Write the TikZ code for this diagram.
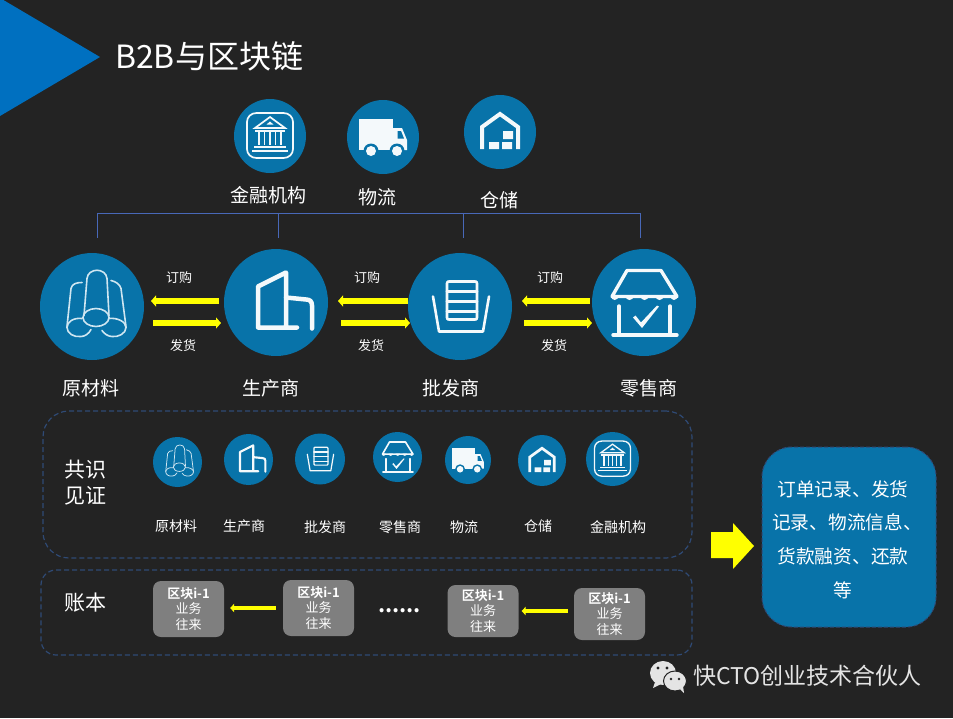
\documentclass[tikz,border=0pt]{standalone}
\usepackage{fontspec}
\setmainfont{Noto Sans CJK SC}[BoldFont={Noto Sans CJK SC Bold}]
\usetikzlibrary{arrows.meta,shapes.geometric}
\definecolor{bgc}{HTML}{232323}
\definecolor{disc}{HTML}{0873A9}
\definecolor{tri}{HTML}{0070C0}
\definecolor{ink}{HTML}{F4F9FB}
\definecolor{tube}{HTML}{CFE6F1}
\definecolor{busc}{HTML}{4868B8}
\definecolor{dashc}{HTML}{2F4A75}
\definecolor{yel}{HTML}{FFFF00}
\definecolor{wm}{HTML}{E4E4E4}
\definecolor{blockc}{HTML}{7F7F7F}
\tikzset{
  disk/.style={ellipse,fill=disc,draw=none,inner sep=0pt,outer sep=0pt},
  lab/.style={text=white,inner sep=0pt,font=\fontsize{#1}{#1}\selectfont},
  lab/.default=19,
  buswire/.style={draw=busc,line width=0.8pt},
  yarrow/.style={draw=yel,line width=6pt,-{Triangle[length=5pt,width=11pt,fill=yel]}},
  yarrowthin/.style={draw=yel,line width=4.5pt,-{Triangle[length=4pt,width=8.5pt,fill=yel]}},
  dashbox/.style={draw=dashc,line width=1.2pt,dash pattern=on 5pt off 3pt,inner sep=0pt,outer sep=0pt},
  block/.style={fill=blockc,rounded corners=8pt,text=white,align=center,inner sep=0pt,
    minimum width=71pt,font=\fontsize{13}{15.5}\selectfont},
}
% icons
\newcommand\iconTubes[3]{\begin{scope}[shift={(#1,#2)},scale=#3,draw=tube,line width=#3*1.6pt,line join=round,line cap=round]
 \draw (4,2) .. controls (-3,2) and (-9,6) .. (-9,11) .. controls (-9,16) and (-3,20) .. (4,20) .. controls (11,20) and (17,16) .. (17,11) .. controls (17,6) and (11,2) .. (4,2);
 \draw (-8,9) -- (-5,-28) .. controls (-4,-39) and (14,-39) .. (15,-28) -- (17,9);
 \draw (-10,12) .. controls (-18,11) and (-25,15) .. (-25,21) .. controls (-25,27) and (-18,31) .. (-11,30) .. controls (-7,30) and (-3,27) .. (-1,23);
 \draw (-25,20) -- (-21,-18) .. controls (-20,-23) and (-15,-24) .. (-10,-24);
 \draw (17,12) .. controls (25,11) and (34,15) .. (34,21) .. controls (34,27) and (26,31) .. (20,30) .. controls (16,30) and (12,27) .. (10,24);
 \draw (34,20) -- (29,-18) .. controls (28,-22) and (24,-25) .. (19,-26);
\end{scope}}
\newcommand\iconFactory[3]{\begin{scope}[shift={(#1,#2)},scale=#3,draw=ink,line width=#3*4.5pt,line join=round,line cap=round]
 \draw (21,25) -- (-18,25) -- (-18,-16) -- (10,-30) -- (10,25);
 \draw (10,-5) -- (30,-3) .. controls (34,-3) and (36,-1) .. (36,3) -- (36,26);
\end{scope}}
\newcommand\iconStock[3]{\begin{scope}[shift={(#1,#2)},scale=#3,draw=ink,line width=#3*2.6pt,line join=round,line cap=round]
 \draw (-13,-23) .. controls (-13,-25) and (-12,-25) .. (-11,-25) -- (15,-25) .. controls (16,-25) and (17,-25) .. (17,-23) -- (17,11) .. controls (17,13) and (16,13) .. (15,13) -- (-11,13) .. controls (-12,13) and (-13,13) .. (-13,11) -- cycle;
 \draw (-13,-15) -- (17,-15) (-13,-5) -- (17,-5) (-13,5) -- (17,5);
 \draw (-27,-10) -- (-21,25) -- (23,25) -- (29,-10);
\end{scope}}
\newcommand\iconShop[3]{\begin{scope}[shift={(#1,#2)},scale=#3,draw=ink,line width=#3*3.4pt,line join=round,line cap=round]
 \draw (-17,-32) -- (17,-32) -- (33,-6) -- (-32,-6) -- cycle;
 \fill[ink] (-19,-7) .. controls (-18,-1) and (-11,-1) .. (-10,-7) -- cycle;
 \fill[ink] (-4,-7) .. controls (-3,-1) and (4,-1) .. (5,-7) -- cycle;
 \fill[ink] (11,-7) .. controls (12,-1) and (19,-1) .. (20,-7) -- cycle;
 \fill[ink] (-33,-7) .. controls (-33,-1) and (-26,-1) .. (-25,-7) -- cycle;
 \fill[ink] (26,-7) .. controls (27,-1) and (33,-1) .. (34,-7) -- cycle;
 \draw (-25,3.5) -- (-25,32.5) (26,3.5) -- (26,32.5) (-31,32.5) -- (33,32.5);
 \fill[ink] (-11,15) -- (-8.5,13) -- (-3,20) -- (13,3) -- (15,4) -- (-2,25.5) -- cycle;
\end{scope}}
\newcommand\iconBank[3]{\begin{scope}[shift={(#1,#2)},scale=#3,draw=ink,line width=#3*1.7pt,line join=miter]
 \draw (-13.5,-23) -- (13.5,-23) .. controls (19,-23) and (23,-19) .. (23,-14) -- (23,13) .. controls (23,18) and (19,22) .. (13.5,22) -- (-13.5,22) .. controls (-19,22) and (-23,18) .. (-23,13) -- (-23,-14) .. controls (-23,-19) and (-19,-23) .. (-13.5,-23) -- cycle;
 \draw (0,-19) -- (15,-8) -- (-15,-8) -- cycle;
 \fill[ink] (0,-14.5) -- (3.5,-11.5) -- (-3.5,-11.5) -- cycle;
 \draw (-11,-4) -- (-11,9) (-5.5,-4) -- (-5.5,9) (0,-4) -- (0,9) (5.5,-4) -- (5.5,9) (11,-4) -- (11,9);
 \draw (-15,-5) -- (15,-5) (-16,11) -- (16,11) (-18,15) -- (18,15);
\end{scope}}
\newcommand\iconTruck[3]{\begin{scope}[shift={(#1,#2)},scale=#3]
 \fill[ink] (-24,-18) rectangle (10,13);
 \fill[ink] (10,-9) -- (19,-9) -- (24,3) -- (24,13) -- (10,13) -- cycle;
 \fill[disc] (14.5,-6) -- (18,-6) -- (21,1.5) -- (14.5,1.5) -- cycle;
 \fill[disc] (-12,14) circle[radius=7.5] (14,14) circle[radius=7.5];
 \fill[ink] (-12,14) circle[radius=5] (14,14) circle[radius=5];
\end{scope}}
\newcommand\iconStore[3]{\begin{scope}[shift={(#1,#2)},scale=#3,draw=ink,line width=#3*4pt,line join=miter]
 \draw (-18,17) -- (-18,-5) -- (0,-18) -- (18,-5) -- (18,17);
 \fill[ink] (-11,10) rectangle (-1,17) (2,10) rectangle (12,17) (3,-1) rectangle (13,7);
\end{scope}}
\begin{document}
\begin{tikzpicture}[x=1pt,y=-1pt]
\useasboundingbox (0,0) rectangle (953,718);
\fill[bgc] (0,0) rectangle (953,718);
\fill[tri] (0,-2) -- (100,57) -- (0,116) -- cycle;
\node[lab=32,anchor=west] (title) at (115,56) {B2B与区块链};

% top row
\node[disk,minimum width=72pt,minimum height=74pt] (fin) at (270,136) {};
\node[disk,minimum width=72pt,minimum height=74pt] (log) at (383,137) {};
\node[disk,minimum width=72pt,minimum height=74pt] (ware) at (500,132) {};
\iconBank{270}{136}{1}
\iconTruck{383}{137}{1}
\iconStore{500}{132}{1}
\node[lab] (tfin) at (268,195) {金融机构};
\node[lab] (tlog) at (377,197) {物流};
\node[lab] (tware) at (499,200) {仓储};

% bus
\coordinate (busA) at (97,213);
\coordinate (busB) at (278,213);
\coordinate (busC) at (463,213);
\coordinate (busD) at (640,213);
\coordinate (dropA) at (97,238);
\coordinate (dropB) at (278,238);
\coordinate (dropC) at (463,238);
\coordinate (dropD) at (640,238);
\draw[buswire] (busA) -- (busD);
\draw[buswire] (busA) -- (dropA);
\draw[buswire] (busB) -- (dropB);
\draw[buswire] (busC) -- (dropC);
\draw[buswire] (busD) -- (dropD);

% main row
\node[disk,minimum width=104pt,minimum height=107pt] (n1) at (92,306.5) {};
\node[disk,minimum width=104pt,minimum height=107pt] (n2) at (276,302.5) {};
\node[disk,minimum width=104pt,minimum height=107pt] (n3) at (460,306.5) {};
\node[disk,minimum width=104pt,minimum height=107pt] (n4) at (644,302.5) {};
\iconTubes{92}{306.5}{1}
\iconFactory{276}{302.5}{1}
\iconStock{460}{306.5}{1}
\iconShop{644}{302.5}{1}
\node[lab] (l1) at (91,388) {原材料};
\node[lab] (l2) at (271,388) {生产商};
\node[lab] (l3) at (451,388) {批发商};
\node[lab] (l4) at (649,388) {零售商};

\coordinate (upper) at (0,301);
\coordinate (lower) at (0,323);
\draw[yarrow,shorten <=5pt,shorten >=7pt] (n2.west |- upper) -- (n1.east |- upper);
\draw[yarrow,shorten <=9pt,shorten >=3pt] (n1.east |- lower) -- (n2.west |- lower);
\draw[yarrow,shorten >=10pt] (n3.west |- upper) -- (n2.east |- upper);
\draw[yarrow,shorten <=13pt,shorten >=-2pt] (n2.east |- lower) -- (n3.west |- lower);
\draw[yarrow,shorten <=2pt,shorten >=10pt] (n4.west |- upper) -- (n3.east |- upper);
\draw[yarrow,shorten <=12pt] (n3.east |- lower) -- (n4.west |- lower);

\node[lab=13] (o1) at (179,278) {订购};
\node[lab=13] (o2) at (367,278) {订购};
\node[lab=13] (o3) at (550,278) {订购};
\node[lab=13] (s1) at (183,346) {发货};
\node[lab=13] (s2) at (371,346) {发货};
\node[lab=13] (s3) at (554,346) {发货};

% consensus
\node[dashbox,rounded corners=26pt,minimum width=649pt,minimum height=147pt] (cons) at (367.5,484.5) {};
\node[lab=21,align=center,font=\fontsize{21}{26}\selectfont] (constxt) at (85,483) {共识\\见证};
\node[disk,minimum width=49pt,minimum height=50pt] (c1) at (177.5,462) {};
\node[disk,minimum width=49pt,minimum height=51pt] (c2) at (248.5,459.5) {};
\node[disk,minimum width=50pt,minimum height=51pt] (c3) at (320,459) {};
\node[disk,minimum width=49pt,minimum height=50pt] (c4) at (397.5,457) {};
\node[disk,minimum width=46pt,minimum height=48pt] (c5) at (468,460) {};
\node[disk,minimum width=48pt,minimum height=51pt] (c6) at (542,460.5) {};
\node[disk,minimum width=53pt,minimum height=54pt] (c7) at (612.5,459) {};
\iconTubes{177.5}{462}{0.47}
\iconFactory{248.5}{459.5}{0.47}
\iconStock{320}{459}{0.47}
\iconShop{397.5}{457}{0.47}
\iconTruck{468}{460}{0.66}
\iconStore{542}{460.5}{0.68}
\iconBank{612.5}{459}{0.78}
\node[lab=14] (d1) at (176,526) {原材料};
\node[lab=14] (d2) at (244,526) {生产商};
\node[lab=14] (d3) at (325,527) {批发商};
\node[lab=14] (d4) at (400,527) {零售商};
\node[lab=14] (d5) at (464,527) {物流};
\node[lab=14] (d6) at (538,526) {仓储};
\node[lab=14] (d7) at (618,527) {金融机构};

% ledger
\node[dashbox,rounded corners=15pt,minimum width=651pt,minimum height=85pt] (ledger) at (366.5,612.5) {};
\node[lab=21] (ledgertxt) at (85,603) {账本};
\node[block,minimum height=56pt] (b1) at (188.5,609) {\textbf{区块i-1}\\业务\\往来};
\node[block,minimum height=56pt] (b2) at (318.5,608) {\textbf{区块i-1}\\业务\\往来};
\node[block,minimum height=52pt] (b3) at (483,611) {\textbf{区块i-1}\\业务\\往来};
\node[block,minimum height=52pt] (b4) at (609.5,614) {\textbf{区块i-1}\\业务\\往来};
\draw[yarrowthin,shorten <=7pt,shorten >=6pt] (b2.west) -- (b1.east |- b2.west);
\draw[yarrowthin,shorten <=6pt,shorten >=3pt] (b4.west |- b3.east) -- (b3.east);
\node[lab=22,font=\bfseries\fontsize{22}{22}\selectfont] (dots) at (399.5,611) {......};

% result
\fill[yel] (711,532) -- (733,532) -- (733,523) -- (754,546) -- (733,569) -- (733,558) -- (711,558) -- cycle;
\node[rectangle,fill=disc,rounded corners=30pt,minimum width=174pt,minimum height=180pt,inner sep=0pt,
  draw=dashc,line width=1pt,dash pattern=on 4pt off 2pt] (res) at (849,537) {};
\node[text=white,inner sep=0pt,align=center,font=\fontsize{18.7}{33.7}\selectfont] (restxt) at (843,539.5)
  {订单记录、发货\\\hspace{8pt}记录、物流信息、\\货款融资、还款\\等};

% watermark
\fill[wm] (663,673) ellipse[x radius=13,y radius=12];
\fill[wm] (655,682) -- (653,688) -- (661,684) -- cycle;
\fill[wm,draw=bgc,line width=1pt] (675,681) ellipse[x radius=11.5,y radius=10];
\fill[wm] (680,689) -- (684,693) -- (683,686) -- cycle;
\fill[bgc] (658,668) circle[radius=1.7] (667,668) circle[radius=1.7] (671,679) circle[radius=1.4] (679,679) circle[radius=1.4];
\node[lab=23,text=wm,anchor=west] (mark) at (693,676) {快CTO创业技术合伙人};
\end{tikzpicture}
\end{document}
